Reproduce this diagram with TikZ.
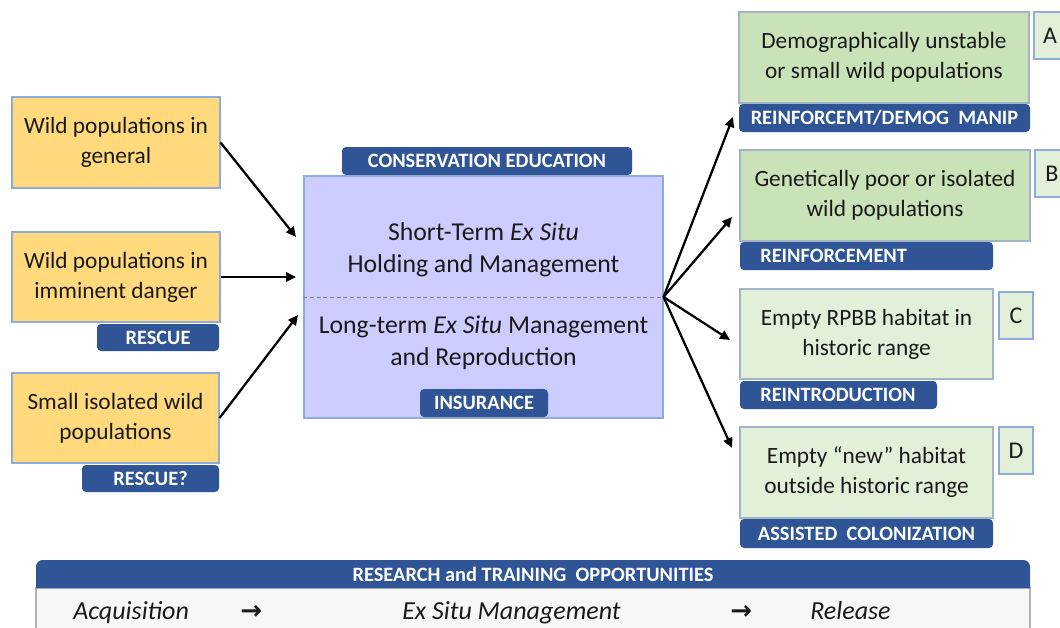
\documentclass[tikz,border=0pt]{standalone}
\usepackage{fontspec}
\setmainfont{Carlito}
\newfontfamily\arrowfont{DejaVu Sans}
\usetikzlibrary{arrows.meta,fit,calc}
\definecolor{tagblue}{HTML}{2F5597}
\definecolor{yel}{HTML}{FFD97C}
\definecolor{lav}{HTML}{CCCCFF}
\definecolor{grnA}{HTML}{C9E2B8}
\definecolor{grnC}{HTML}{E2F0D9}
\definecolor{bord}{HTML}{8FAADC}
\definecolor{gbord}{HTML}{A3B4C8}
\definecolor{txt}{HTML}{1A1A1A}
\definecolor{lowfill}{HTML}{F7F7F7}
\begin{document}
\begin{tikzpicture}[x=0.75pt,y=-0.75pt,
  box/.style={draw=bord, line width=0.8pt, inner sep=0pt},
  ybox/.style={box, fill=yel},
  gboxA/.style={box, draw=gbord, fill=grnA},
  gboxC/.style={box, draw=gbord, fill=grnC},
  letterbox/.style={box, line width=1.3pt, fill=grnC},
  boxtext/.style={inner sep=0pt, align=center, text=txt, font=\fontsize{17.5}{22.5}\selectfont},
  lettertext/.style={inner sep=0pt, text=txt, font=\fontsize{18}{22}\selectfont},
  tag/.style={fill=tagblue, rounded corners=3pt, inner sep=0pt},
  tagtext/.style={inner sep=0pt, text=white, font=\bfseries\fontsize{15.3}{18}\selectfont},
  maintext/.style={inner sep=0pt, align=center, text=txt, font=\fontsize{19.3}{24}\selectfont},
  bottomtext/.style={inner sep=0pt, text=txt, font=\itshape\fontsize{19.5}{24}\selectfont},
  conn/.style={-{Triangle[length=7.5pt,width=7pt]}, line width=1.7pt, black}
]
\clip (0,0) rectangle (1060,628);
\fill[white] (0,0) rectangle (1060,628);

% left boxes
\node[ybox, fit={(12,97)(220,188)}] (y1) {};
\node[boxtext] (y1t) at (y1.center) {Wild populations in\\general};
\node[ybox, fit={(12,232)(220,322)}] (y2) {};
\node[boxtext] (y2t) at (y2.center) {Wild populations in\\imminent danger};
\node[tag, fit={(97,324)(219,351)}] (t2) {};
\node[tagtext] (t2t) at (t2.center) {RESCUE};
\node[ybox, fit={(12,373)(219,463)}] (y3) {};
\node[boxtext] (y3t) at (y3.center) {Small isolated wild\\populations};
\node[tag, fit={(82,465)(219,492)}] (t3) {};
\node[tagtext] (t3t) at (t3.center) {RESCUE?};

% main box
\node[tag, fit={(342,147)(632,175)}] (tce) {};
\node[tagtext] (tcet) at (tce.center) {CONSERVATION EDUCATION};
\node[box, fill=lav, fit={(304,176)(663,418)}] (main) {};
\draw[gray, line width=0.6pt, dash pattern=on 3pt off 2pt] (main.west) -- (main.east);
\node[maintext] (up) at (483.5,250) {Short-Term \textit{Ex Situ}\\Holding and Management};
\node[maintext] (lo) at (483.5,343) {Long-term \textit{Ex Situ} Management\\and Reproduction};
\node[tag, fit={(420,389)(548,417)}] (tins) {};
\node[tagtext] (tinst) at (tins.center) {INSURANCE};

% right boxes
\node[gboxA, fit={(739,12)(1029,103)}] (bA) {};
\node[boxtext] (bAt) at (bA.center) {Demographically unstable\\or small wild populations};
\node[tag, fit={(739,104)(1030,132)}] (tA) {};
\node[tagtext] (tAt) at (tA.center) {REINFORCEMT/DEMOG\ \ MANIP};
\node[letterbox, fit={(1034,12)(1070,59)}] (lA) {};
\node[lettertext] (lAt) at (1050,36) {A};

\node[gboxA, fit={(740,150)(1030,241)}] (bB) {};
\node[boxtext] (bBt) at (bB.center) {Genetically poor or isolated\\wild populations};
\node[tag, fit={(740,242)(993,270)}] (tB) {};
\node[tagtext, anchor=west] (tBt) at (760,256) {REINFORCEMENT};
\node[letterbox, fit={(1035,150)(1070,197)}] (lB) {};
\node[lettertext] (lBt) at (1052,174) {B};

\node[gboxC, fit={(740,289)(993,379)}] (bC) {};
\node[boxtext] (bCt) at (bC.center) {Empty RPBB habitat in\\historic range};
\node[tag, fit={(740,381)(937,409)}] (tC) {};
\node[tagtext, anchor=west] (tCt) at (760,395) {REINTRODUCTION};
\node[letterbox, fit={(999,292)(1033,339)}] (lC) {};
\node[lettertext] (lCt) at (lC.center) {C};

\node[gboxC, fit={(740,427)(993,518)}] (bD) {};
\node[boxtext] (bDt) at (bD.center) {Empty “new” habitat\\outside historic range};
\node[tag, fit={(740,519)(993,548)}] (tD) {};
\node[tagtext] (tDt) at (tD.center) {ASSISTED\ \ COLONIZATION};
\node[letterbox, fit={(999,427)(1033,474)}] (lD) {};
\node[lettertext] (lDt) at (lD.center) {D};

% arrows
\coordinate (e1) at (296,237);
\coordinate (e2) at (296,277);
\coordinate (e3) at (298,315);
\coordinate (eA) at (733,117);
\coordinate (eB) at (732,217);
\coordinate (eC) at (730,340);
\coordinate (eD) at (732,448);
\draw[conn] (y1.east) -- (e1);
\draw[conn] (y2.east) -- (e2);
\draw[conn] (y3.east) -- (e3);
\draw[conn] (main.east) -- (eA);
\draw[conn] (main.east) -- (eB);
\draw[conn] (main.east) -- (eC);
\draw[conn] (main.east) -- (eD);

% bottom
\draw[draw=gray!60, fill=lowfill, line width=0.8pt] (36,588) rectangle (1030,640);
\fill[tagblue] (36,588) [rounded corners=5pt]-- (36,560) -- (1030,560) [sharp corners]-- (1030,588) -- cycle;
\coordinate (rtc) at (533,574);
\node[tagtext] (rt) at (rtc) {RESEARCH and TRAINING\ \ OPPORTUNITIES};
\node[bottomtext, anchor=base west] (acq) at (73,619) {Acquisition};
\node[bottomtext, anchor=base west] (ar1) at (240,619) {\arrowfont\upshape\bfseries →};
\node[bottomtext, anchor=base west] (esm) at (402,619) {Ex Situ Management};
\node[bottomtext, anchor=base west] (ar2) at (730,619) {\arrowfont\upshape\bfseries →};
\node[bottomtext, anchor=base west] (rel) at (810,619) {Release};
\end{tikzpicture}
\end{document}
